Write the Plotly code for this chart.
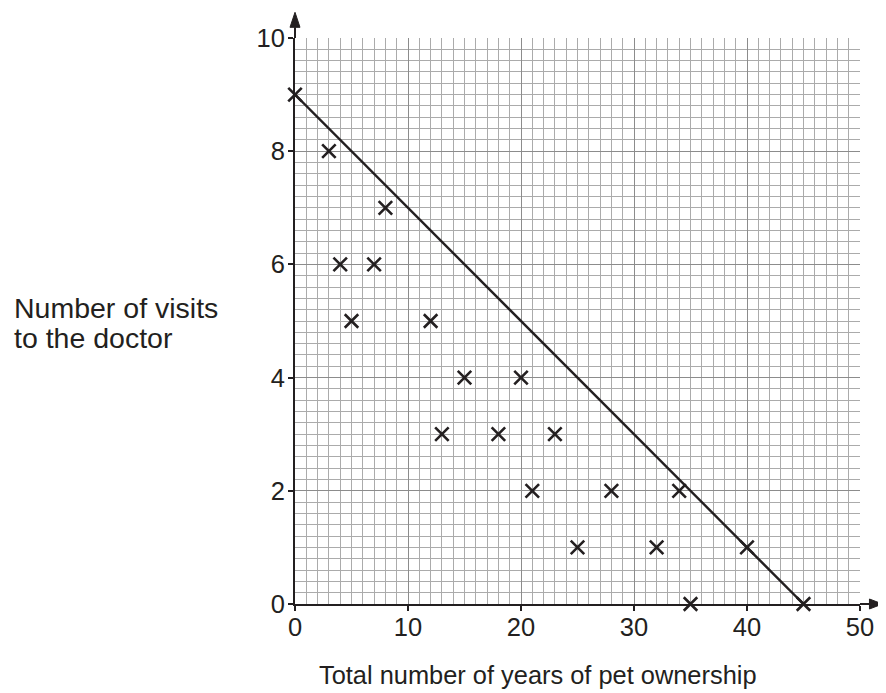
import plotly.graph_objects as go

# Data
pet_years = [0, 3, 4, 5, 7, 8, 12, 13, 15, 18, 20, 21, 23, 25, 28, 32, 34, 35, 40, 45]
doctor_visits = [9, 8, 6, 5, 6, 7, 5, 3, 4, 3, 4, 2, 3, 1, 2, 1, 2, 0, 1, 0]

fit_x = [0, 45]
fit_y = [9, 0]

x_ticks = [0, 10, 20, 30, 40, 50]
y_ticks = [0, 2, 4, 6, 8, 10]

x_title = "Total number of years of pet ownership"
y_title_lines = ["Number of visits", "to the doctor"]

INK = "#231f20"
FONT = "Liberation Sans, Arial, sans-serif"

# page body has an 8px margin; targets below are in screenshot pixels
OFF = 8
PL, PR, PT, PB = 295, 862.5, 37.7, 604.5   # plot area in screenshot pixels
W, H = 878, 685
PW, PH = PR - PL, PB - PT


def px_x(px):
    return (px - PL) / PW


def px_y(py):
    return (PB - py) / PH


fig = go.Figure()
fig.add_trace(go.Scatter(
    x=fit_x, y=fit_y, mode="lines",
    line=dict(color=INK, width=2.4),
    cliponaxis=False, hoverinfo="skip", showlegend=False,
))
fig.add_trace(go.Scatter(
    x=pet_years, y=doctor_visits, mode="markers",
    marker=dict(symbol="x-thin", size=13.5, color=INK,
                line=dict(color=INK, width=2.6)),
    cliponaxis=False, showlegend=False,
))

axis_common = dict(
    showline=True, linecolor=INK, linewidth=2,
    ticks="outside", ticklen=5, tickwidth=1.5, tickcolor=INK,
    tickfont=dict(family=FONT, size=25.5, color=INK),
    showgrid=True, gridcolor="#8c8c8c", gridwidth=1.4,
    zeroline=False, fixedrange=True,
)

fig.update_xaxes(
    range=[0, 50], tickvals=x_ticks, ticktext=[str(v) for v in x_ticks],
    minor=dict(dtick=1, showgrid=True, gridcolor="#ababab", gridwidth=1.1, ticks=""),
    ticklabelstandoff=-6,
    **axis_common,
)
fig.update_yaxes(
    range=[0, 10], tickvals=y_ticks, ticktext=[str(v) for v in y_ticks],
    minor=dict(dtick=0.2, showgrid=True, gridcolor="#ababab", gridwidth=1.1, ticks=""),
    ticklabelstandoff=-2,
    **axis_common,
)

# axis extensions with arrowheads (paper coordinates)
fig.add_shape(type="line", xref="paper", yref="paper", x0=0, y0=1, x1=0, y1=px_y(27),
              line=dict(color=INK, width=2), layer="above")
fig.add_shape(type="path", xref="paper", yref="paper",
              path=f"M 0,{px_y(12)} L {-5/PW},{px_y(27)} L {5/PW},{px_y(27)} Z",
              fillcolor=INK, line=dict(color=INK, width=1), layer="above")
fig.add_shape(type="line", xref="paper", yref="paper", x0=1, y0=0, x1=px_x(873), y1=0,
              line=dict(color=INK, width=2), layer="above")
fig.add_shape(type="path", xref="paper", yref="paper",
              path=f"M {px_x(885)},0 L {px_x(872)},{5/PH} L {px_x(872)},{-5/PH} Z",
              fillcolor=INK, line=dict(color=INK, width=1), layer="above")

annotations = [
    dict(text=x_title, xref="paper", yref="paper", x=px_x(538.7), y=px_y(676),
         xanchor="center", yanchor="middle", showarrow=False,
         font=dict(family=FONT, size=25.4, color=INK)),
    dict(text=y_title_lines[0], xref="paper", yref="paper", x=px_x(11), y=px_y(308),
         xanchor="left", yanchor="middle", showarrow=False,
         font=dict(family=FONT, size=28.5, color=INK)),
    dict(text=y_title_lines[1], xref="paper", yref="paper", x=px_x(11), y=px_y(338.5),
         xanchor="left", yanchor="middle", showarrow=False,
         font=dict(family=FONT, size=28.5, color=INK)),
]

fig.update_layout(
    width=W, height=H,
    margin=dict(l=PL - OFF, r=W - (PR - OFF), t=PT - OFF, b=H - (PB - OFF)),
    plot_bgcolor="white", paper_bgcolor="white",
    annotations=annotations,
    showlegend=False,
)

fig.write_html("out.html")
